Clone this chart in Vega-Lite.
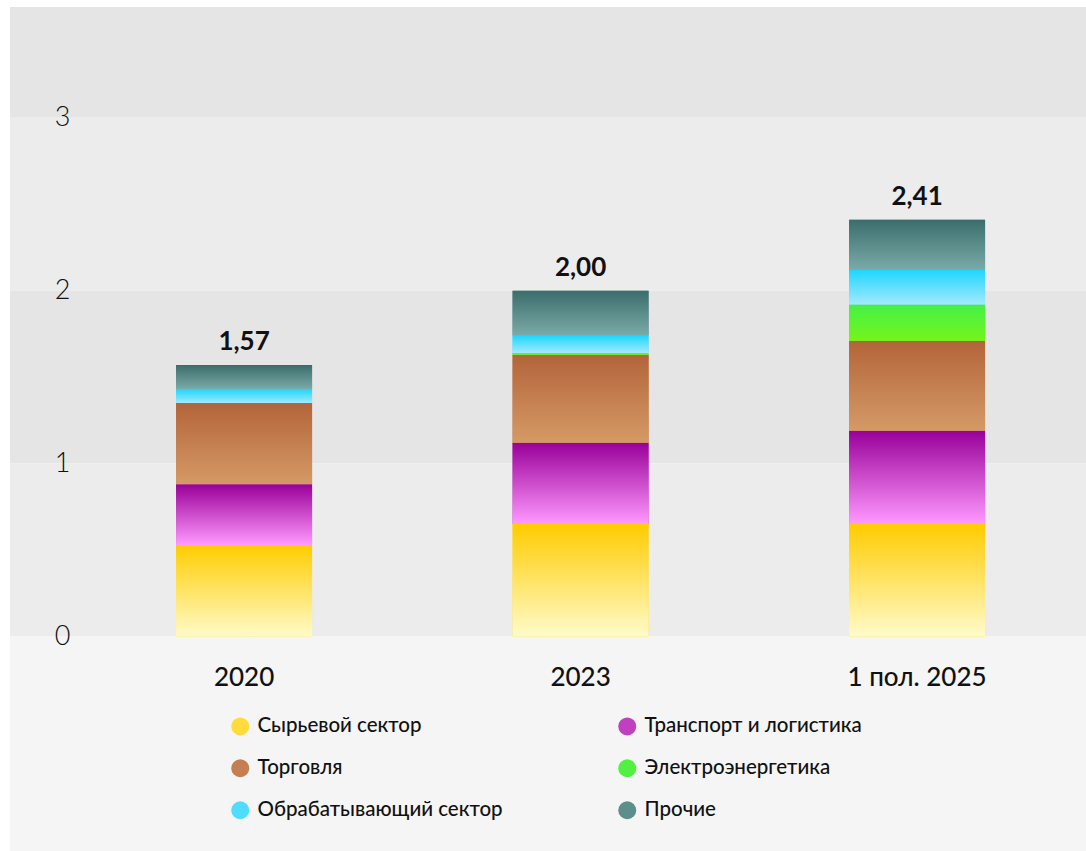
{
  "$schema": "https://vega.github.io/schema/vega-lite/v6.json",
  "width": 1076,
  "height": 844,
  "autosize": {"type": "none"},
  "padding": {"left": 10, "top": 7, "right": 0, "bottom": 0},
  "background": "#ffffff",
  "config": {
    "view": {"stroke": null},
    "font": "Lato",
    "locale": {"number": {"decimal": ",", "thousands": " ", "grouping": [3], "currency": ["", ""]}}
  },
  "datasets": {
    "main": [
      {"year": "2020", "cat": "Сырьевой сектор", "k": 1, "value": 0.53},
      {"year": "2020", "cat": "Транспорт и логистика", "k": 2, "value": 0.35},
      {"year": "2020", "cat": "Торговля", "k": 3, "value": 0.47},
      {"year": "2020", "cat": "Электроэнергетика", "k": 4, "value": 0.0},
      {"year": "2020", "cat": "Обрабатывающий сектор", "k": 5, "value": 0.08},
      {"year": "2020", "cat": "Прочие", "k": 6, "value": 0.14},
      {"year": "2023", "cat": "Сырьевой сектор", "k": 1, "value": 0.65},
      {"year": "2023", "cat": "Транспорт и логистика", "k": 2, "value": 0.47},
      {"year": "2023", "cat": "Торговля", "k": 3, "value": 0.51},
      {"year": "2023", "cat": "Электроэнергетика", "k": 4, "value": 0.01},
      {"year": "2023", "cat": "Обрабатывающий сектор", "k": 5, "value": 0.10},
      {"year": "2023", "cat": "Прочие", "k": 6, "value": 0.26},
      {"year": "1 пол. 2025", "cat": "Сырьевой сектор", "k": 1, "value": 0.65},
      {"year": "1 пол. 2025", "cat": "Транспорт и логистика", "k": 2, "value": 0.54},
      {"year": "1 пол. 2025", "cat": "Торговля", "k": 3, "value": 0.52},
      {"year": "1 пол. 2025", "cat": "Электроэнергетика", "k": 4, "value": 0.21},
      {"year": "1 пол. 2025", "cat": "Обрабатывающий сектор", "k": 5, "value": 0.20},
      {"year": "1 пол. 2025", "cat": "Прочие", "k": 6, "value": 0.29}
    ],
    "bands": [
      {"lo": 3, "hi": 3.64, "shade": "a"},
      {"lo": 2, "hi": 3, "shade": "b"},
      {"lo": 1, "hi": 2, "shade": "a"},
      {"lo": 0, "hi": 1, "shade": "b"},
      {"lo": -1.24, "hi": 0, "shade": "c"}
    ]
  },
  "data": {"name": "main"},
  "layer": [
    {
      "data": {"name": "bands"},
      "mark": {"type": "rect"},
      "encoding": {
        "y": {"field": "lo", "type": "quantitative", "title": null,
              "scale": {"domain": [-1.24, 3.64], "nice": false, "zero": false},
              "axis": {"values": [0, 1, 2, 3], "format": "d", "orient": "left", "offset": -60, "domain": false, "ticks": false, "tickSize": 0, "grid": false,
                       "labelPadding": 0, "labelAlign": "right", "labelBaseline": "middle", "labelFontSize": 27, "labelFontWeight": 300,
                       "labelColor": "#111111", "zindex": 1, "title": null}},
        "y2": {"field": "hi"},
        "fill": {"field": "shade", "type": "nominal", "legend": null,
                 "scale": {"domain": ["a", "b", "c"], "range": ["#e5e5e5", "#ececec", "#f5f5f5"]}}
      }
    },
    {
      "transform": [
        {"stack": "value", "groupby": ["year"], "sort": [{"field": "k", "order": "ascending"}], "as": ["v0", "v1"]}
      ],
      "mark": {"type": "bar", "strokeWidth": 0},
      "encoding": {
        "x": {"field": "year", "type": "nominal", "sort": null, "title": null,
              "scale": {"paddingInner": 0.5958, "paddingOuter": 0.3967, "align": 0.622},
              "axis": {"orient": "bottom", "offset": -187, "domain": false, "ticks": false, "tickSize": 0, "labelPadding": 0,
                       "labelAngle": 0, "labelFontSize": 26, "labelFontWeight": 500, "labelColor": "#111111", "zindex": 1, "title": null, "grid": false}},
        "y": {"field": "v1", "type": "quantitative", "title": null},
        "y2": {"field": "v0"},
        "color": {"field": "cat", "type": "nominal", "sort": null,
                  "scale": {"domain": ["Сырьевой сектор", "Торговля", "Обрабатывающий сектор", "Транспорт и логистика", "Электроэнергетика", "Прочие"],
                            "range": ["#ffdc3c", "#c47e50", "#50dcff", "#c040c0", "#52f040", "#5d8e8c"]},
                  "legend": {
                    "title": null, "orient": "none", "legendX": 220, "legendY": 709, "columns": 2, "columnPadding": 114,
                    "rowPadding": 21, "symbolType": "circle", "symbolSize": 324, "symbolStrokeWidth": 0, "labelFontSize": 20.5,
                    "labelFontWeight": 500, "labelColor": "#111111", "labelOffset": 7, "padding": 0, "labelLimit": 400
                  }}
      }
    },
    {
      "transform": [
        {"stack": "value", "groupby": ["year"], "sort": [{"field": "k", "order": "ascending"}], "as": ["v0", "v1"]}
      ],
      "mark": {"type": "bar", "strokeWidth": 0},
      "encoding": {
        "x": {"field": "year", "type": "nominal", "sort": null, "title": null},
        "y": {"field": "v1", "type": "quantitative", "title": null},
        "y2": {"field": "v0"},
        "fill": {
          "condition": [
            {"test": "datum.cat === 'Сырьевой сектор'", "value": {"gradient": "linear", "x1": 0, "y1": 0, "x2": 0, "y2": 1, "stops": [{"offset": 0, "color": "#ffcc00"}, {"offset": 1, "color": "#fffbca"}]}},
            {"test": "datum.cat === 'Транспорт и логистика'", "value": {"gradient": "linear", "x1": 0, "y1": 0, "x2": 0, "y2": 1, "stops": [{"offset": 0, "color": "#990099"}, {"offset": 1, "color": "#ff99ff"}]}},
            {"test": "datum.cat === 'Торговля'", "value": {"gradient": "linear", "x1": 0, "y1": 0, "x2": 0, "y2": 1, "stops": [{"offset": 0, "color": "#b3643a"}, {"offset": 1, "color": "#d59a66"}]}},
            {"test": "datum.cat === 'Электроэнергетика'", "value": {"gradient": "linear", "x1": 0, "y1": 0, "x2": 0, "y2": 1, "stops": [{"offset": 0, "color": "#45f048"}, {"offset": 1, "color": "#75f51a"}]}},
            {"test": "datum.cat === 'Обрабатывающий сектор'", "value": {"gradient": "linear", "x1": 0, "y1": 0, "x2": 0, "y2": 1, "stops": [{"offset": 0, "color": "#1ed6ff"}, {"offset": 1, "color": "#a3e9ff"}]}}
          ],
          "value": {"gradient": "linear", "x1": 0, "y1": 0, "x2": 0, "y2": 1, "stops": [{"offset": 0, "color": "#3b6d6c"}, {"offset": 1, "color": "#7aaba8"}]}
        }
      }
    },
    {
      "transform": [
        {"aggregate": [{"op": "sum", "field": "value", "as": "total"}], "groupby": ["year"]}
      ],
      "mark": {"type": "text", "fontSize": 26, "fontWeight": "bold", "color": "#111111", "baseline": "alphabetic", "dy": -15},
      "encoding": {
        "x": {"field": "year", "type": "nominal", "sort": null, "title": null},
        "y": {"field": "total", "type": "quantitative", "title": null},
        "text": {"field": "total", "type": "quantitative", "format": ".2f"}
      }
    }
  ]
}
